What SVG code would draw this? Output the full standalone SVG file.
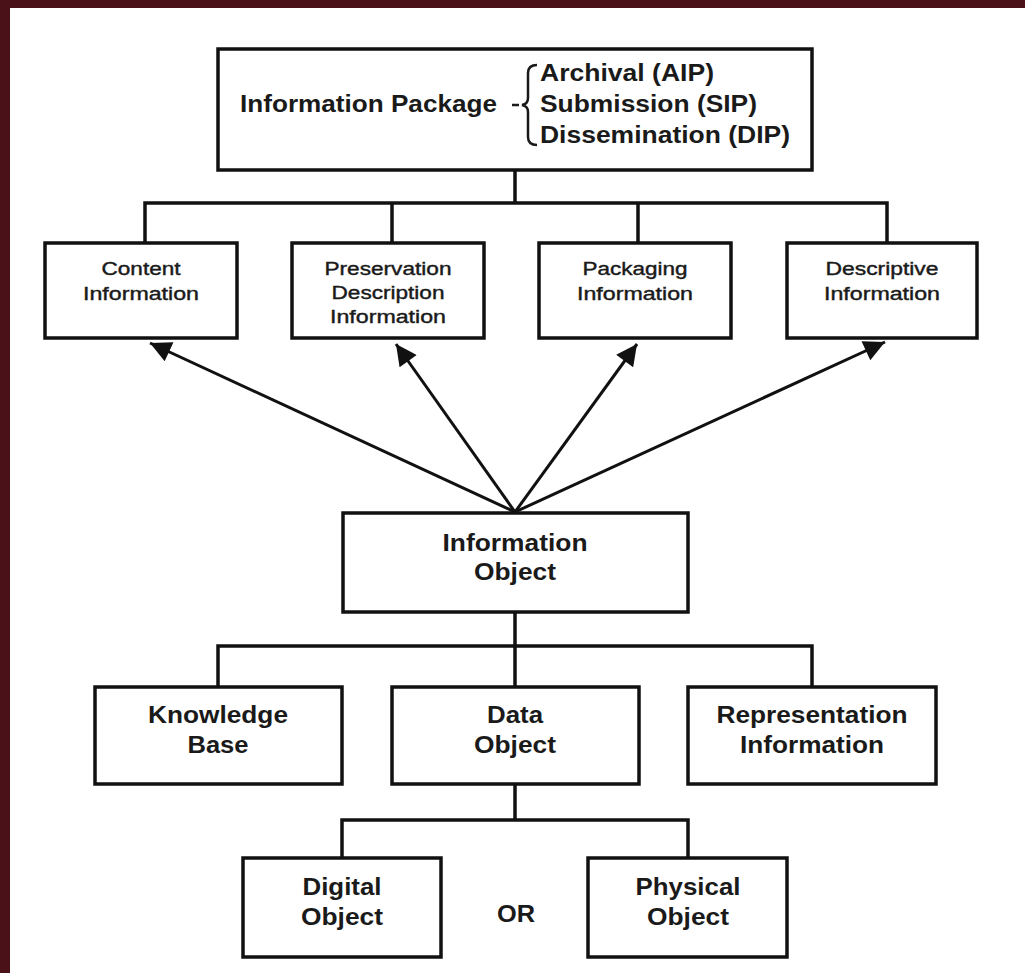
<svg xmlns="http://www.w3.org/2000/svg" width="1025" height="973" viewBox="0 0 1025 973">
  <style>
    .box { fill: #ffffff; stroke: #111111; stroke-width: 3.5; }
    .wire { fill: none; stroke: #111111; stroke-width: 3.5; stroke-linecap: square; }
    .ray { fill: none; stroke: #111111; stroke-width: 3; }
    .big { font-family: "Liberation Sans", Arial, sans-serif; font-size: 23.5px; font-weight: bold; fill: #1a1a1a; text-anchor: middle; }
    .small { font-family: "Liberation Sans", Arial, sans-serif; font-size: 18px; fill: #1a1a1a; text-anchor: middle; stroke: #1a1a1a; stroke-width: 0.4; }
    .list { font-family: "Liberation Sans", Arial, sans-serif; font-size: 23.5px; font-weight: bold; fill: #1a1a1a; }
  </style>
  <defs>
    <marker id="head" viewBox="0 0 10 10" refX="10" refY="5" markerWidth="8.5" markerHeight="7" markerUnits="strokeWidth" orient="auto">
      <path d="M0,0 L10,5 L0,10 Z" fill="#111111"/>
    </marker>
  </defs>

  <!-- page frame -->
  <rect x="0" y="0" width="1025" height="973" fill="#ffffff"/>
  <rect x="0" y="0" width="1025" height="8" fill="#4a1118"/>
  <rect x="0" y="0" width="10" height="973" fill="#4a1118"/>

  <!-- connectors -->
  <g id="connectors">
    <path class="wire" d="M515,170 V203 M145,243 V203 H887 V243 M392,203 V243 M638,203 V243"/>
    <path class="wire" d="M515,612 V646 M218,686 V646 H812 V686 M515,646 V686"/>
    <path class="wire" d="M515,785 V820 M342,858 V820 H688 V858"/>
    <line class="ray" x1="515" y1="512" x2="150" y2="343" marker-end="url(#head)"/>
    <line class="ray" x1="515" y1="512" x2="396" y2="344" marker-end="url(#head)"/>
    <line class="ray" x1="515" y1="512" x2="637" y2="344" marker-end="url(#head)"/>
    <line class="ray" x1="515" y1="512" x2="885" y2="342" marker-end="url(#head)"/>
  </g>

  <g id="information-package">
    <rect class="box" x="218" y="49" width="594" height="121"/>
    <text class="list" x="240" y="112" textLength="257" lengthAdjust="spacingAndGlyphs">Information Package</text>
    <path d="M512,105 H519 M537,65 Q528,65 528,73 V98 Q528,104 522,105 Q528,106 528,112 V137 Q528,145 537,145" fill="none" stroke="#1a1a1a" stroke-width="2.5"/>
    <text class="list" x="540" y="81" textLength="174" lengthAdjust="spacingAndGlyphs">Archival (AIP)</text>
    <text class="list" x="540" y="112" textLength="217" lengthAdjust="spacingAndGlyphs">Submission (SIP)</text>
    <text class="list" x="540" y="143" textLength="250" lengthAdjust="spacingAndGlyphs">Dissemination (DIP)</text>
  </g>

  <g id="content-information">
    <rect class="box" x="45" y="243" width="192" height="95"/>
    <text class="small" x="141" y="275" textLength="79" lengthAdjust="spacingAndGlyphs">Content</text>
    <text class="small" x="141" y="300" textLength="116" lengthAdjust="spacingAndGlyphs">Information</text>
  </g>

  <g id="preservation-description-information">
    <rect class="box" x="292" y="243" width="192" height="95"/>
    <text class="small" x="388" y="275" textLength="127" lengthAdjust="spacingAndGlyphs">Preservation</text>
    <text class="small" x="388" y="299" textLength="113" lengthAdjust="spacingAndGlyphs">Description</text>
    <text class="small" x="388" y="323" textLength="116" lengthAdjust="spacingAndGlyphs">Information</text>
  </g>

  <g id="packaging-information">
    <rect class="box" x="539" y="243" width="192" height="95"/>
    <text class="small" x="635" y="275" textLength="105" lengthAdjust="spacingAndGlyphs">Packaging</text>
    <text class="small" x="635" y="300" textLength="116" lengthAdjust="spacingAndGlyphs">Information</text>
  </g>

  <g id="descriptive-information">
    <rect class="box" x="787" y="243" width="190" height="95"/>
    <text class="small" x="882" y="275" textLength="113" lengthAdjust="spacingAndGlyphs">Descriptive</text>
    <text class="small" x="882" y="300" textLength="116" lengthAdjust="spacingAndGlyphs">Information</text>
  </g>

  <g id="information-object">
    <rect class="box" x="343" y="513" width="345" height="99"/>
    <text class="big" x="515" y="551" textLength="145" lengthAdjust="spacingAndGlyphs">Information</text>
    <text class="big" x="515" y="580" textLength="82" lengthAdjust="spacingAndGlyphs">Object</text>
  </g>

  <g id="knowledge-base">
    <rect class="box" x="95" y="687" width="247" height="97"/>
    <text class="big" x="218" y="723" textLength="140" lengthAdjust="spacingAndGlyphs">Knowledge</text>
    <text class="big" x="218" y="753" textLength="61" lengthAdjust="spacingAndGlyphs">Base</text>
  </g>

  <g id="data-object">
    <rect class="box" x="392" y="687" width="247" height="97"/>
    <text class="big" x="515" y="723" textLength="56" lengthAdjust="spacingAndGlyphs">Data</text>
    <text class="big" x="515" y="753" textLength="82" lengthAdjust="spacingAndGlyphs">Object</text>
  </g>

  <g id="representation-information">
    <rect class="box" x="688" y="687" width="248" height="97"/>
    <text class="big" x="812" y="723" textLength="191" lengthAdjust="spacingAndGlyphs">Representation</text>
    <text class="big" x="812" y="753" textLength="144" lengthAdjust="spacingAndGlyphs">Information</text>
  </g>

  <g id="digital-object">
    <rect class="box" x="243" y="858" width="198" height="99"/>
    <text class="big" x="342" y="895" textLength="79" lengthAdjust="spacingAndGlyphs">Digital</text>
    <text class="big" x="342" y="925" textLength="82" lengthAdjust="spacingAndGlyphs">Object</text>
  </g>

  <g id="physical-object">
    <rect class="box" x="588" y="858" width="199" height="99"/>
    <text class="big" x="688" y="895" textLength="105" lengthAdjust="spacingAndGlyphs">Physical</text>
    <text class="big" x="688" y="925" textLength="82" lengthAdjust="spacingAndGlyphs">Object</text>
  </g>

  <text class="big" x="516" y="922" textLength="38" lengthAdjust="spacingAndGlyphs">OR</text>
</svg>
